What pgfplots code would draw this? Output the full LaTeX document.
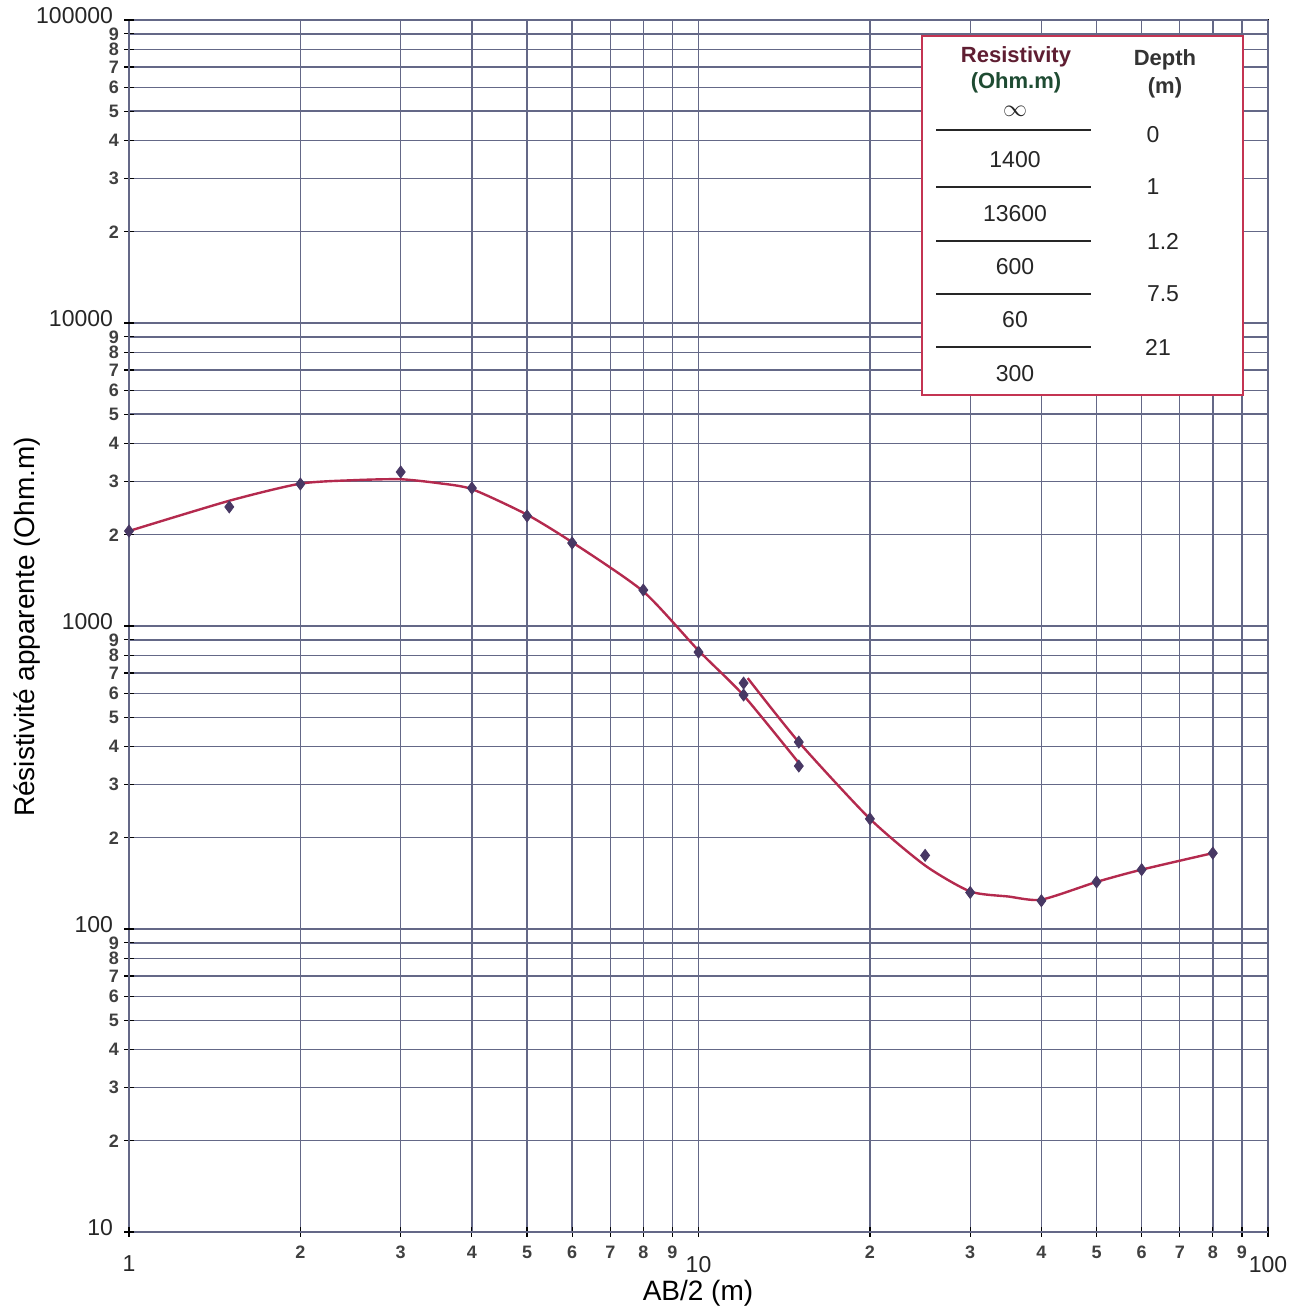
\documentclass[border=0pt]{standalone}
\usepackage{pgfplots}
\pgfplotsset{compat=1.18}
\usepackage{fontspec}
\setmainfont{Liberation Sans}
\definecolor{gridc}{RGB}{100,104,135}
\definecolor{curve}{RGB}{180,42,78}
\definecolor{pts}{RGB}{72,56,100}
\definecolor{boxred}{RGB}{196,52,82}
\definecolor{hdred}{RGB}{95,30,50}
\definecolor{hdgreen}{RGB}{30,75,50}

\begin{document}
\begin{tikzpicture}
\begin{loglogaxis}[
    name=ax,
    scale only axis,
    width=569.5pt, height=606pt,
    xmin=1, xmax=100,
    ymin=10, ymax=100000,
    xtick={2,3,4,5,6,7,8,9,20,30,40,50,60,70,80,90},
    xticklabels={2,3,4,5,6,7,8,9,2,3,4,5,6,7,8,9},
    ytick={20,30,40,50,60,70,80,90,200,300,400,500,600,700,800,900,
           2000,3000,4000,5000,6000,7000,8000,9000,20000,30000,40000,50000,60000,70000,80000,90000},
    yticklabels={2,3,4,5,6,7,8,9,2,3,4,5,6,7,8,9,2,3,4,5,6,7,8,9,2,3,4,5,6,7,8,9},
    extra x ticks={1,10,100},
    extra x tick labels={1,10,100},
    extra y ticks={10,100,1000,10000,100000},
    extra y tick labels={10,100,1000,10000,100000},
    minor tick num=0,
    tick pos=left,
    tick align=center,
    major tick length=5pt,
    tick style={black, line width=0.6pt},
    axis line style={black, line width=1pt},
    grid=major,
    major grid style={gridc, line width=0.7pt},
    xticklabel style={font=\bfseries\fontsize{9}{10}\selectfont, text=black!75, yshift=-1pt},
    yticklabel style={font=\bfseries\fontsize{9}{10}\selectfont, text=black!75, xshift=1pt, inner ysep=0pt},
    extra x tick style={grid=major,
        xticklabel style={font=\mdseries\fontsize{11.5}{12}\selectfont, text=black!85, yshift=-5pt}},
    extra y tick style={grid=major,
        yticklabel style={font=\mdseries\fontsize{11.5}{12}\selectfont, text=black!85, xshift=-3pt, yshift=2pt, inner ysep=0pt}},
]
% fitted model curve, two branches
\addplot[curve, line width=1.2pt, smooth, tension=0.4] coordinates {
    (1,2058) (1.5,2590) (2,2950) (2.5,3030) (3,3050) (3.5,2960) (4,2830)
    (5,2330) (6,1890) (8,1300) (10,830) (12,590) (15.1,348)};
\addplot[curve, line width=1.2pt, smooth, tension=0.4] coordinates {
    (12.2,673) (15,414) (20,231) (25,162) (30,133) (35,128) (40,125)
    (50,143) (60,157) (80,178)};
% field measurements
\addplot[only marks, mark=diamond*, mark size=3pt, pts] coordinates {
    (1,2058) (1.5,2471) (2,2942) (3,3223) (4,2853) (5,2307) (6,1879)
    (8,1314) (10,820) (12,648) (12,592) (15,414) (15,345) (20,231)
    (25,175) (30,132) (40,124) (50,143) (60,157) (80,178)};
\end{loglogaxis}

\begin{scope}[shift={(ax.north west)}]
\begin{scope}[xshift=-64.5pt, yshift=10pt, x=0.5pt, y=-0.5pt]
  % model table
  \draw[boxred, line width=1.2pt, fill=white] (922,36) rectangle (1243,395);
  \node[font=\bfseries\fontsize{11}{12}\selectfont, text=hdred] at (1016,57) {Resistivity};
  \node[font=\bfseries\fontsize{11}{12}\selectfont, text=hdgreen] at (1016,83) {(Ohm.m)};
  \node[font=\bfseries\fontsize{11}{12}\selectfont, text=black!80] at (1165,60) {Depth};
  \node[font=\bfseries\fontsize{11}{12}\selectfont, text=black!80] at (1165,88) {(m)};
  \begin{scope}[font=\fontsize{11.5}{12}\selectfont, text=black!85]
    \node[inner sep=0pt] at (1015,111) {$\infty$};
    \node at (1015,160) {1400};
    \node at (1015,214) {13600};
    \node at (1015,267) {600};
    \node at (1015,320) {60};
    \node at (1015,374) {300};
    \node at (1153,135) {0};
    \node at (1153,187) {1};
    \node at (1163,241) {1.2};
    \node at (1163,294) {7.5};
    \node at (1158,347) {21};
  \end{scope}
  \foreach \yy in {130,187,241,294,347}
    \draw[black!85, line width=0.8pt] (936,\yy) -- (1091,\yy);
  % axis titles
  \node[font=\fontsize{14}{16}\selectfont] at (698,1293) {AB/2 (m)};
  \node[font=\fontsize{14}{16}\selectfont, rotate=90] at (27,627) {Résistivité apparente (Ohm.m)};
  \pgfresetboundingbox
  \path (0,0) rectangle (1299,1311);
\end{scope}
\end{scope}
\end{tikzpicture}
\end{document}
